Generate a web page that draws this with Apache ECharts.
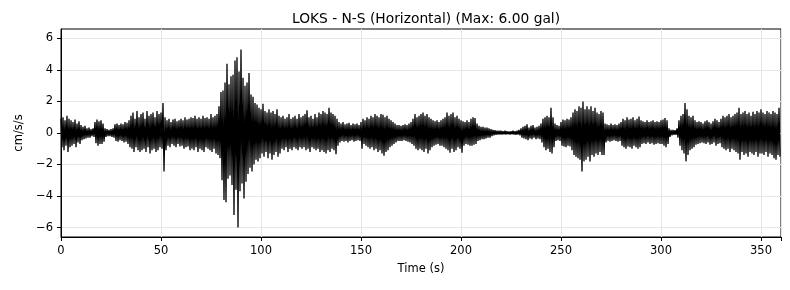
<!DOCTYPE html>
<html>
<head>
<meta charset="utf-8">
<script src="https://cdn.jsdelivr.net/npm/echarts@6/dist/echarts.min.js"></script>
<style>
html,body{margin:0;padding:0;background:#fff;}
#c{width:790px;height:290px;}
</style>
</head>
<body>
<div id="c"></div>
<script>
// Envelope of the acceleration trace (cm/s/s)
const timeStart = 0;      // s
const timeStep = 1;       // s between successive envelope readings
const upperEnvelope = [
  0.9,1.0,0.8,1.1,0.9,0.8,0.7,0.85,0.6,0.75,
  0.5,0.4,0.45,0.3,0.35,0.25,0.3,0.7,0.85,0.75,
  0.8,0.6,0.3,0.25,0.2,0.25,0.3,0.55,0.6,0.5,
  0.6,0.55,0.7,0.65,0.8,1.1,1.3,0.9,1.4,1.0,
  1.2,1.3,0.9,1.4,1.1,1.2,1.3,1.0,1.4,1.2,
  1.3,1.9,1.0,0.8,0.9,0.7,0.85,0.9,0.75,0.8,
  0.9,0.8,1.0,0.85,0.9,1.0,0.95,1.1,0.9,1.0,
  0.9,1.1,0.95,1.0,0.9,1.2,1.0,1.1,1.2,1.7,
  2.6,2.7,3.2,4.4,3.1,3.6,3.7,4.6,4.8,3.9,
  5.3,3.5,3.0,3.2,3.8,2.45,2.3,1.9,1.8,1.6,
  1.5,1.85,1.4,1.3,1.5,1.3,1.4,1.2,1.5,1.1,
  1.0,1.1,0.9,1.0,1.2,0.9,1.0,1.1,0.9,1.2,
  1.0,1.1,1.2,1.45,1.0,1.1,0.9,1.2,1.0,1.3,
  1.2,1.4,1.3,1.2,1.6,1.3,1.2,1.1,0.9,0.7,
  0.6,0.7,0.55,0.6,0.65,0.5,0.6,0.55,0.6,0.5,
  0.7,0.9,0.8,1.0,0.9,1.1,1.0,1.2,1.1,1.0,
  1.2,1.15,1.0,1.1,0.9,0.8,0.7,0.6,0.5,0.5,
  0.45,0.5,0.55,0.5,0.6,0.7,0.9,1.2,1.0,1.1,
  1.2,1.3,1.1,1.2,1.0,0.9,0.8,0.75,0.8,0.7,
  0.8,0.9,1.0,1.3,1.1,1.2,1.3,1.0,1.1,0.9,
  0.8,0.75,0.7,0.8,0.7,0.9,1.0,0.95,0.6,0.45,
  0.4,0.4,0.35,0.35,0.3,0.25,0.2,0.18,0.15,0.15,
  0.15,0.12,0.15,0.12,0.1,0.12,0.15,0.12,0.15,0.2,
  0.3,0.4,0.45,0.55,0.35,0.45,0.5,0.35,0.4,0.45,
  0.6,0.9,1.0,1.1,1.0,1.6,1.0,0.6,0.5,0.45,
  0.7,0.85,0.8,0.9,0.85,1.0,1.3,1.5,1.4,1.7,
  1.6,2.0,1.5,1.7,1.5,1.7,1.4,1.6,1.3,1.2,
  1.4,1.3,0.6,0.55,0.5,0.6,0.5,0.55,0.5,0.6,
  0.7,0.9,0.8,1.0,0.85,0.9,1.0,0.8,0.9,1.05,
  0.8,0.75,0.7,0.8,0.7,0.75,0.8,0.7,0.75,0.7,
  0.8,0.85,0.95,0.8,0.3,0.2,0.2,0.18,0.3,0.8,
  1.1,1.2,1.9,1.5,1.1,1.0,1.1,0.8,0.7,0.75,
  0.7,0.6,0.75,0.8,0.7,0.6,0.75,0.9,0.8,0.7,
  0.9,1.1,1.0,1.1,1.2,1.0,1.1,1.2,1.3,1.6,
  1.2,1.3,1.4,1.2,1.3,1.1,1.35,1.2,1.4,1.3,
  1.5,1.3,1.2,1.4,1.3,1.2,1.4,1.3,1.2,1.6
];
const lowerEnvelope = [
  -0.9,-1.1,-0.8,-1.2,-0.9,-0.8,-0.7,-0.9,-0.6,-0.7,
  -0.45,-0.4,-0.35,-0.3,-0.3,-0.2,-0.25,-0.65,-0.8,-0.7,
  -0.7,-0.55,-0.25,-0.2,-0.2,-0.25,-0.3,-0.5,-0.55,-0.45,
  -0.5,-0.6,-0.55,-0.7,-0.9,-1.0,-1.2,-0.9,-1.1,-1.2,
  -1.1,-1.0,-1.2,-0.9,-1.3,-1.1,-1.0,-1.2,-1.1,-0.9,
  -1.0,-2.45,-1.1,-0.8,-0.9,-0.7,-0.8,-0.9,-0.7,-0.85,
  -0.8,-1.0,-0.9,-0.85,-1.1,-1.0,-1.1,-0.9,-1.2,-1.0,
  -1.1,-1.2,-0.9,-1.0,-1.1,-1.2,-1.0,-1.3,-1.4,-1.6,
  -3.0,-4.25,-4.4,-2.9,-2.7,-3.3,-5.2,-3.6,-6.0,-3.7,
  -3.2,-4.15,-3.1,-2.6,-2.2,-2.45,-2.0,-1.7,-1.8,-1.6,
  -1.3,-1.5,-1.2,-1.6,-1.3,-1.7,-1.4,-1.2,-1.5,-1.3,
  -1.0,-1.1,-0.9,-1.2,-1.0,-1.1,-0.9,-1.0,-1.1,-0.9,
  -1.0,-0.9,-1.1,-1.0,-1.2,-0.9,-1.0,-1.1,-1.0,-1.2,
  -1.1,-1.2,-1.3,-1.1,-1.2,-1.0,-1.1,-1.35,-0.8,-0.6,
  -0.5,-0.55,-0.5,-0.6,-0.5,-0.45,-0.55,-0.5,-0.45,-0.5,
  -1.0,-0.7,-0.8,-0.9,-1.0,-0.9,-1.1,-1.0,-1.2,-1.1,
  -1.3,-1.45,-1.2,-1.1,-0.9,-0.8,-0.7,-0.6,-0.5,-0.5,
  -0.5,-0.45,-0.5,-0.55,-0.6,-0.7,-0.8,-1.0,-1.1,-1.0,
  -1.1,-1.2,-1.0,-1.3,-1.1,-0.9,-0.8,-0.75,-0.7,-0.8,
  -0.8,-0.9,-1.0,-1.1,-1.25,-1.0,-1.2,-1.1,-0.9,-1.0,
  -1.25,-0.8,-0.7,-0.75,-0.8,-0.8,-0.75,-0.7,-0.5,-0.45,
  -0.4,-0.4,-0.35,-0.3,-0.3,-0.2,-0.15,-0.12,-0.1,-0.1,
  -0.1,-0.08,-0.1,-0.08,-0.1,-0.08,-0.1,-0.12,-0.1,-0.15,
  -0.3,-0.35,-0.4,-0.45,-0.35,-0.4,-0.3,-0.4,-0.35,-0.4,
  -0.6,-0.9,-1.1,-1.0,-1.2,-1.3,-0.9,-0.5,-0.45,-0.5,
  -0.8,-0.85,-0.9,-0.8,-0.85,-1.1,-1.4,-1.5,-1.6,-1.7,
  -2.45,-1.8,-1.7,-1.5,-1.8,-1.4,-1.5,-1.3,-1.4,-1.2,
  -1.4,-1.4,-0.6,-0.5,-0.55,-0.5,-0.45,-0.5,-0.55,-0.5,
  -0.8,-0.9,-1.0,-0.85,-0.9,-1.0,-0.8,-0.9,-1.0,-0.9,
  -0.7,-0.65,-0.7,-0.6,-0.7,-0.65,-0.75,-0.7,-0.65,-0.7,
  -0.7,-0.8,-0.9,-0.7,-0.25,-0.15,-0.12,-0.12,-0.3,-0.8,
  -1.1,-1.3,-1.8,-1.4,-1.1,-1.0,-0.9,-0.75,-0.7,-0.65,
  -0.6,-0.65,-0.7,-0.6,-0.75,-0.7,-0.6,-0.8,-0.7,-0.65,
  -0.9,-1.0,-1.1,-1.0,-1.2,-1.0,-1.1,-1.2,-1.3,-1.7,
  -1.2,-1.4,-1.3,-1.5,-1.2,-1.3,-1.4,-1.2,-1.5,-1.3,
  -1.3,-1.4,-1.2,-1.5,-1.3,-1.4,-1.6,-1.7,-1.4,-1.5
];
const xTicks = [0, 50, 100, 150, 200, 250, 300, 350];
const yTicks = [-6, -4, -2, 0, 2, 4, 6];
const peakValue = 6.00;
const titleText = 'LOKS - N-S (Horizontal) (Max: ' + peakValue.toFixed(2) + ' gal)';

// Trace: each reading contributes a crest then a trough, giving the oscillating line
const trace = [];
for (let i = 0; i < upperEnvelope.length; i++) {
  const t = timeStart + i * timeStep;
  trace.push([t, upperEnvelope[i]]);
  trace.push([t + timeStep / 2, lowerEnvelope[i]]);
}
const yLimit = 1.1 * peakValue;

const FONT = 'DejaVu Sans';
const chart = echarts.init(document.getElementById('c'), null, {renderer: 'canvas'});
chart.setOption({
  animation: false,
  backgroundColor: '#fff',
  title: {
    text: titleText,
    left: 421, top: 7, textAlign: 'center',
    textStyle: {fontFamily: FONT, fontSize: 13.8, fontWeight: 'normal', color: '#000'}
  },
  grid: {
    left: 61, right: 9, top: 29, bottom: 53,
    show: true, borderColor: '#000', borderWidth: 1, backgroundColor: 'transparent'
  },
  xAxis: {
    type: 'value', min: 0, max: 360, interval: 50,
    name: 'Time (s)', nameLocation: 'middle', nameGap: 26,
    nameTextStyle: {fontFamily: FONT, fontSize: 11.5, color: '#000'},
    axisLine: {show: true, onZero: false, lineStyle: {color: '#000', width: 1}},
    axisTick: {show: true, inside: false, length: 4, lineStyle: {color: '#000'}},
    axisLabel: {margin: 8, fontFamily: FONT, fontSize: 11.5, color: '#000',
      customValues: xTicks},
    splitLine: {show: true, lineStyle: {color: '#e6e6e6', width: 1}}
  },
  yAxis: {
    type: 'value', min: -yLimit, max: yLimit,
    name: 'cm/s/s', nameLocation: 'middle', nameGap: 36,
    nameTextStyle: {fontFamily: FONT, fontSize: 11.5, color: '#000'},
    axisLine: {show: true, onZero: false, lineStyle: {color: '#000', width: 1}},
    axisTick: {show: true, inside: false, length: 4, lineStyle: {color: '#000'},
      customValues: yTicks},
    axisLabel: {margin: 8, fontFamily: FONT, fontSize: 11.5, color: '#000',
      customValues: yTicks,
      formatter: v => String(v).replace('-', '\u2212')},
    splitLine: {show: true, lineStyle: {color: '#e6e6e6', width: 1}}
  },
  series: [{
    type: 'line',
    data: trace,
    showSymbol: false,
    symbol: 'none',
    sampling: null,
    lineStyle: {color: '#000', width: 1.3},
    silent: true,
    z: 3
  }]
});
</script>
</body>
</html>
